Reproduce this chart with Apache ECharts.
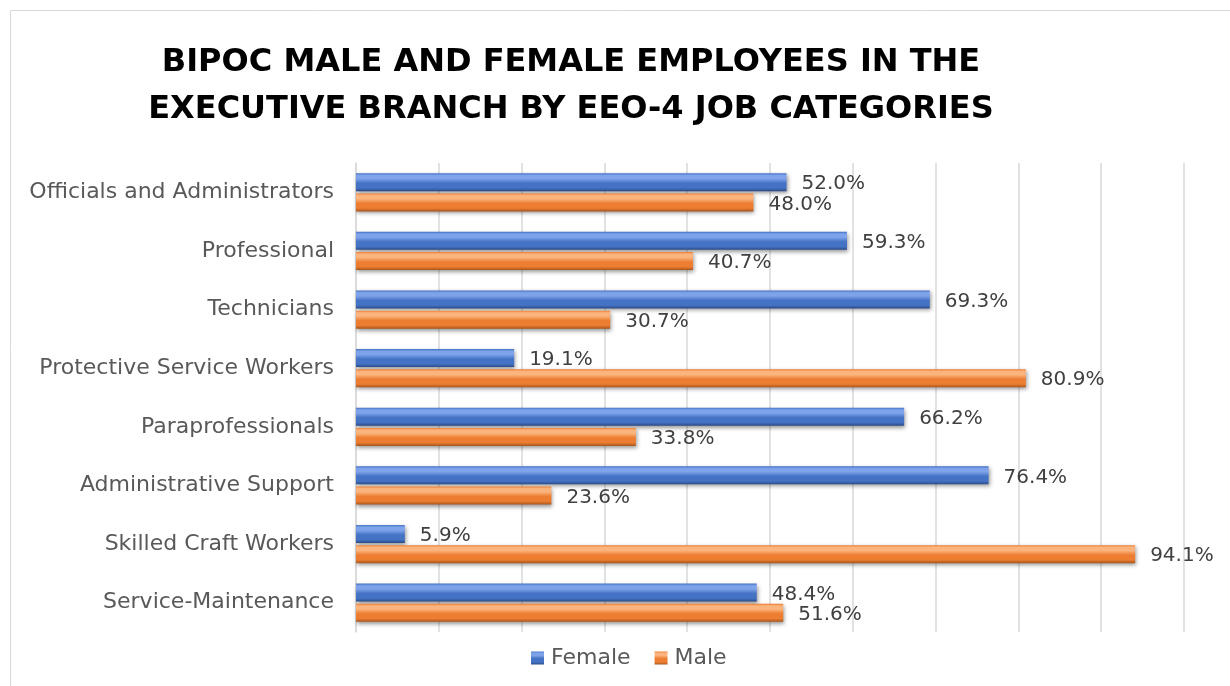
<!DOCTYPE html>
<html>
<head>
<meta charset="utf-8">
<script src="https://cdn.jsdelivr.net/npm/echarts@6/dist/echarts.min.js"></script>
<style>
  html, body { margin: 0; padding: 0; background: #ffffff; }
  #chart { width: 1230px; height: 686px; }
</style>
</head>
<body>
<div id="chart"></div>
<script>
const titleLines = [
  'BIPOC MALE AND FEMALE EMPLOYEES IN THE',
  'EXECUTIVE BRANCH BY EEO-4 JOB CATEGORIES'
];
const categories = [
  'Officials and Administrators',
  'Professional',
  'Technicians',
  'Protective Service Workers',
  'Paraprofessionals',
  'Administrative Support',
  'Skilled Craft Workers',
  'Service-Maintenance'
];
const femaleValues = [52.0, 59.3, 69.3, 19.1, 66.2, 76.4, 5.9, 48.4];
const maleValues = [48.0, 40.7, 30.7, 80.9, 33.8, 23.6, 94.1, 51.6];
const seriesNames = ['Female', 'Male'];

const FONT = 'DejaVu Sans';

// vertical shading that gives each bar a bevelled, rounded look
function bevel(light, base, dark) {
  return new echarts.graphic.LinearGradient(0, 0, 0, 1, [
    { offset: 0, color: base },
    { offset: 0.12, color: light },
    { offset: 0.3, color: light },
    { offset: 0.55, color: base },
    { offset: 0.82, color: base },
    { offset: 1, color: dark }
  ]);
}

const blueFill = bevel('#7ea3ea', '#4472c4', '#2a4b85');
const orangeFill = bevel('#fbb47d', '#ed7d31', '#a8561c');

function barSeries(name, values, fill) {
  return {
    name: name,
    type: 'bar',
    data: values,
    barWidth: 18,
    barGap: '12%',
    itemStyle: {
      color: fill,
      shadowColor: 'rgba(0,0,0,0.4)',
      shadowBlur: 4,
      shadowOffsetX: 1,
      shadowOffsetY: 2
    },
    label: {
      show: true,
      position: 'right',
      distance: 15,
      offset: [0, 2],
      fontFamily: FONT,
      fontSize: 20,
      color: '#404040',
      formatter: p => p.value.toFixed(1) + '%'
    }
  };
}

const chart = echarts.init(document.getElementById('chart'), null, { renderer: 'canvas' });

chart.setOption({
  backgroundColor: '#ffffff',
  animation: false,
  graphic: [
    {
      type: 'rect',
      shape: { x: 10.5, y: 10.5, width: 1240, height: 700 },
      style: { fill: 'none', stroke: '#d9d9d9', lineWidth: 1 },
      silent: true
    },
    {
      type: 'text',
      x: 571,
      y: 63,
      style: {
        text: titleLines[0],
        font: 'bold 32px ' + FONT,
        fill: '#000000',
        textAlign: 'center',
        textVerticalAlign: 'middle'
      }
    },
    {
      type: 'text',
      x: 571,
      y: 110,
      style: {
        text: titleLines[1],
        font: 'bold 32px ' + FONT,
        fill: '#000000',
        textAlign: 'center',
        textVerticalAlign: 'middle'
      }
    }
  ],
  legend: {
    data: [
      { name: seriesNames[0], itemStyle: { color: blueFill } },
      { name: seriesNames[1], itemStyle: { color: orangeFill } }
    ],
    left: 526,
    top: 642,
    icon: 'rect',
    itemWidth: 13,
    itemHeight: 13,
    itemGap: 24,
    textStyle: { fontFamily: FONT, fontSize: 22, color: '#595959', padding: [0, 0, 0, 2] }
  },
  grid: { left: 356, right: 46, top: 163, bottom: 54, containLabel: false },
  xAxis: {
    type: 'value',
    min: 0,
    max: 100,
    interval: 10,
    axisLabel: { show: false },
    axisTick: { show: false },
    axisLine: { show: false },
    splitLine: { show: true, lineStyle: { color: '#d9d9d9', width: 1.5 } }
  },
  yAxis: {
    type: 'category',
    data: categories,
    inverse: true,
    axisTick: { show: false },
    axisLine: { show: true, lineStyle: { color: '#d9d9d9', width: 1.5 } },
    axisLabel: {
      fontFamily: FONT,
      fontSize: 22,
      color: '#595959',
      margin: 22
    }
  },
  series: [
    barSeries(seriesNames[0], femaleValues, blueFill),
    barSeries(seriesNames[1], maleValues, orangeFill)
  ]
});
</script>
</body>
</html>
